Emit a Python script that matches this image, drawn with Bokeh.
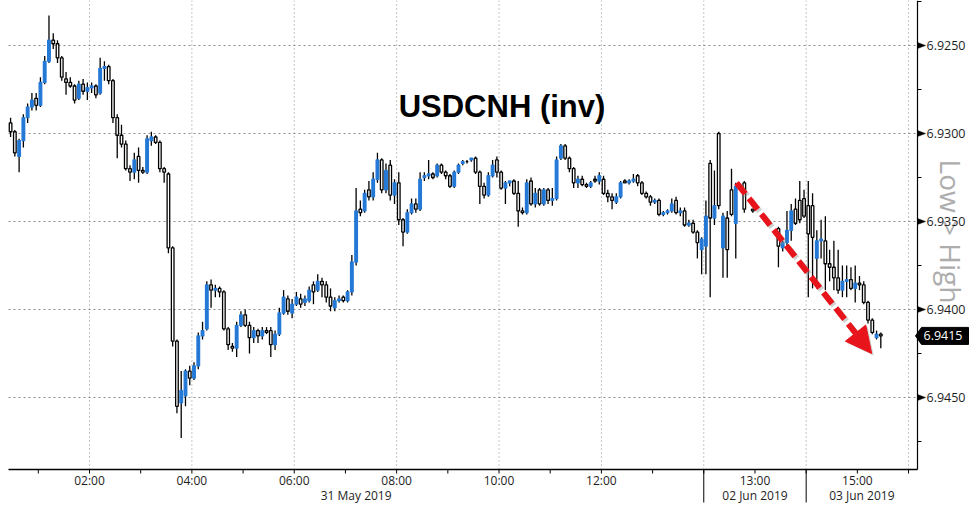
import math
from bokeh.plotting import figure
from bokeh.models import Range1d, Arrow, NormalHead, ColumnDataSource
from bokeh.embed import file_html
from bokeh.resources import INLINE
from bokeh.core.properties import value

# ---------------- data ----------------
title_text = "USDCNH (inv)"
scale_note = "Low > High"
bar_minutes = 5

# 31 May 2019, 5-minute bars starting 00:25
may31_first_bar = "00:25"
may31_open = [
    6.9294, 6.9299, 6.9313, 6.9304, 6.9291, 6.9285, 6.9280, 6.9284, 6.9271, 6.9259,
    6.9247, 6.9249, 6.9257, 6.9269, 6.9271, 6.9273, 6.9280, 6.9272, 6.9276, 6.9274,
    6.9273, 6.9277, 6.9263, 6.9262, 6.9270, 6.9291, 6.9301, 6.9306, 6.9320, 6.9322,
    6.9313, 6.9321, 6.9322, 6.9304, 6.9302, 6.9305, 6.9320, 6.9323, 6.9365, 6.9418,
    6.9453, 6.9449, 6.9435, 6.9439, 6.9432, 6.9415, 6.9411, 6.9386, 6.9389, 6.9388,
    6.9390, 6.9411, 6.9421, 6.9422, 6.9409, 6.9403, 6.9409, 6.9416, 6.9412, 6.9415,
    6.9412, 6.9412, 6.9420, 6.9414, 6.9402, 6.9394, 6.9402, 6.9397, 6.9394, 6.9396,
    6.9395, 6.9386, 6.9389, 6.9384, 6.9386, 6.9393, 6.9399, 6.9395, 6.9393, 6.9395,
    6.9390, 6.9373, 6.9343, 6.9344, 6.9332, 6.9336, 6.9326, 6.9315, 6.9332, 6.9318,
    6.9335, 6.9328, 6.9349, 6.9356, 6.9345, 6.9340, 6.9343, 6.9325, 6.9324, 6.9323,
    6.9324, 6.9318, 6.9322, 6.9324, 6.9330, 6.9322, 6.9317, 6.9316, 6.9315, 6.9314,
    6.9322, 6.9330, 6.9335, 6.9324, 6.9315, 6.9322, 6.9331, 6.9328, 6.9327, 6.9334,
    6.9344, 6.9345, 6.9327, 6.9340, 6.9332, 6.9340, 6.9332, 6.9338, 6.9337, 6.9314,
    6.9307, 6.9314, 6.9320, 6.9328, 6.9326, 6.9329, 6.9330, 6.9326, 6.9327, 6.9326,
    6.9334, 6.9336, 6.9339, 6.9336, 6.9327, 6.9328, 6.9327, 6.9324, 6.9328, 6.9334,
    6.9336, 6.9339, 6.9338, 6.9346, 6.9345, 6.9344, 6.9338, 6.9345, 6.9344, 6.9352,
    6.9351, 6.9356, 6.9366]
may31_high = [
    6.9302, 6.9313, 6.9322, 6.9308, 6.9294, 6.9287, 6.9287, 6.9285, 6.9272, 6.9260,
    6.9252, 6.9260, 6.9270, 6.9278, 6.9274, 6.9283, 6.9281, 6.9278, 6.9281, 6.9277,
    6.9280, 6.9278, 6.9270, 6.9272, 6.9294, 6.9314, 6.9308, 6.9321, 6.9327, 6.9326,
    6.9328, 6.9323, 6.9323, 6.9307, 6.9306, 6.9322, 6.9328, 6.9368, 6.9421, 6.9459,
    6.9473, 6.9455, 6.9443, 6.9440, 6.9434, 6.9417, 6.9412, 6.9399, 6.9393, 6.9393,
    6.9412, 6.9423, 6.9424, 6.9427, 6.9410, 6.9410, 6.9425, 6.9419, 6.9419, 6.9417,
    6.9414, 6.9427, 6.9423, 6.9415, 6.9403, 6.9403, 6.9405, 6.9398, 6.9399, 6.9398,
    6.9396, 6.9397, 6.9390, 6.9393, 6.9396, 6.9401, 6.9401, 6.9396, 6.9396, 6.9396,
    6.9392, 6.9375, 6.9347, 6.9345, 6.9338, 6.9338, 6.9328, 6.9334, 6.9334, 6.9338,
    6.9340, 6.9352, 6.9364, 6.9357, 6.9346, 6.9345, 6.9344, 6.9327, 6.9326, 6.9326,
    6.9325, 6.9323, 6.9326, 6.9331, 6.9331, 6.9323, 6.9318, 6.9317, 6.9316, 6.9323,
    6.9340, 6.9337, 6.9336, 6.9325, 6.9325, 6.9332, 6.9340, 6.9330, 6.9335, 6.9353,
    6.9346, 6.9346, 6.9341, 6.9342, 6.9341, 6.9341, 6.9340, 6.9341, 6.9338, 6.9315,
    6.9315, 6.9322, 6.9331, 6.9331, 6.9330, 6.9331, 6.9331, 6.9328, 6.9329, 6.9335,
    6.9339, 6.9343, 6.9340, 6.9337, 6.9328, 6.9329, 6.9328, 6.9330, 6.9335, 6.9337,
    6.9341, 6.9340, 6.9347, 6.9347, 6.9346, 6.9345, 6.9346, 6.9347, 6.9353, 6.9353,
    6.9357, 6.9371, 6.9380]
may31_low = [
    6.9291, 6.9298, 6.9303, 6.9289, 6.9283, 6.9277, 6.9277, 6.9268, 6.9256, 6.9233,
    6.9243, 6.9247, 6.9256, 6.9265, 6.9268, 6.9272, 6.9270, 6.9269, 6.9271, 6.9271,
    6.9272, 6.9257, 6.9259, 6.9261, 6.9269, 6.9289, 6.9295, 6.9304, 6.9318, 6.9311,
    6.9308, 6.9319, 6.9301, 6.9299, 6.9301, 6.9304, 6.9319, 6.9322, 6.9364, 6.9417,
    6.9435, 6.9434, 6.9432, 6.9430, 6.9413, 6.9407, 6.9384, 6.9383, 6.9386, 6.9387,
    6.9389, 6.9410, 6.9419, 6.9407, 6.9401, 6.9400, 6.9407, 6.9410, 6.9411, 6.9410,
    6.9410, 6.9410, 6.9412, 6.9399, 6.9389, 6.9392, 6.9394, 6.9390, 6.9391, 6.9392,
    6.9387, 6.9384, 6.9380, 6.9382, 6.9384, 6.9388, 6.9393, 6.9392, 6.9392, 6.9389,
    6.9369, 6.9331, 6.9338, 6.9332, 6.9327, 6.9322, 6.9311, 6.9314, 6.9317, 6.9315,
    6.9326, 6.9322, 6.9348, 6.9343, 6.9337, 6.9337, 6.9322, 6.9322, 6.9315, 6.9322,
    6.9317, 6.9317, 6.9321, 6.9323, 6.9321, 6.9317, 6.9315, 6.9315, 6.9314, 6.9313,
    6.9321, 6.9328, 6.9322, 6.9315, 6.9313, 6.9321, 6.9327, 6.9327, 6.9326, 6.9327,
    6.9342, 6.9326, 6.9325, 6.9331, 6.9331, 6.9331, 6.9331, 6.9331, 6.9313, 6.9306,
    6.9306, 6.9313, 6.9319, 6.9324, 6.9324, 6.9328, 6.9327, 6.9324, 6.9322, 6.9324,
    6.9332, 6.9334, 6.9334, 6.9327, 6.9326, 6.9326, 6.9323, 6.9323, 6.9327, 6.9333,
    6.9335, 6.9337, 6.9337, 6.9344, 6.9343, 6.9337, 6.9336, 6.9342, 6.9342, 6.9349,
    6.9349, 6.9355, 6.9359]
may31_close = [
    6.9299, 6.9311, 6.9304, 6.9291, 6.9285, 6.9281, 6.9284, 6.9271, 6.9259, 6.9247,
    6.9249, 6.9257, 6.9268, 6.9271, 6.9273, 6.9281, 6.9272, 6.9276, 6.9274, 6.9273,
    6.9278, 6.9263, 6.9262, 6.9270, 6.9291, 6.9301, 6.9306, 6.9320, 6.9322, 6.9315,
    6.9321, 6.9322, 6.9303, 6.9302, 6.9305, 6.9320, 6.9322, 6.9365, 6.9418, 6.9455,
    6.9446, 6.9435, 6.9439, 6.9432, 6.9415, 6.9412, 6.9386, 6.9389, 6.9388, 6.9390,
    6.9411, 6.9420, 6.9422, 6.9409, 6.9403, 6.9409, 6.9416, 6.9412, 6.9415, 6.9412,
    6.9413, 6.9420, 6.9414, 6.9402, 6.9393, 6.9401, 6.9397, 6.9393, 6.9397, 6.9394,
    6.9389, 6.9390, 6.9384, 6.9386, 6.9393, 6.9398, 6.9395, 6.9394, 6.9395, 6.9390,
    6.9373, 6.9344, 6.9345, 6.9334, 6.9336, 6.9326, 6.9315, 6.9332, 6.9321, 6.9335,
    6.9328, 6.9349, 6.9356, 6.9345, 6.9340, 6.9343, 6.9326, 6.9324, 6.9323, 6.9325,
    6.9318, 6.9322, 6.9324, 6.9330, 6.9322, 6.9318, 6.9316, 6.9316, 6.9314, 6.9322,
    6.9330, 6.9335, 6.9324, 6.9318, 6.9322, 6.9331, 6.9328, 6.9327, 6.9334, 6.9344,
    6.9345, 6.9328, 6.9340, 6.9334, 6.9340, 6.9332, 6.9338, 6.9337, 6.9315, 6.9307,
    6.9314, 6.9320, 6.9328, 6.9326, 6.9329, 6.9330, 6.9328, 6.9327, 6.9324, 6.9334,
    6.9336, 6.9338, 6.9336, 6.9328, 6.9328, 6.9327, 6.9326, 6.9328, 6.9334, 6.9336,
    6.9339, 6.9338, 6.9346, 6.9345, 6.9344, 6.9340, 6.9345, 6.9344, 6.9352, 6.9351,
    6.9356, 6.9362, 6.9360]

# 02 Jun 2019, 5-minute bars starting 12:00 (None = no trade)
jun02_first_bar = "12:00"
jun02_open = [6.9364, 6.9317, 6.9348, 6.9300, 6.9365, 6.9348, 6.9332, 6.9351, None, 6.9328,
              None, 6.9343, None, None, 6.9348, None, None, 6.9354, 6.9365, 6.9362,
              6.9355, 6.9343, 6.9338, 6.9337]
jun02_high = [6.9380, 6.9393, 6.9352, 6.9343, 6.9382, 6.9382, 6.9347, 6.9371, None, 6.9345,
              None, 6.9345, None, None, 6.9349, None, None, 6.9376, 6.9367, 6.9364,
              6.9361, 6.9352, 6.9351, 6.9348]
jun02_low = [6.9338, 6.9315, 6.9321, 6.9299, 6.9345, 6.9344, 6.9320, 6.9328, None, 6.9327,
             None, 6.9343, None, None, 6.9347, None, None, 6.9353, 6.9361, 6.9344,
             6.9340, 6.9337, 6.9327, 6.9332]
jun02_close = [6.9347, 6.9348, 6.9341, 6.9341, 6.9347, 6.9366, 6.9346, 6.9330, None, 6.9343,
               None, 6.9344, None, None, 6.9348, None, None, 6.9364, 6.9362, 6.9355,
               6.9344, 6.9351, 6.9349, 6.9347]

# 03 Jun 2019, 5-minute bars starting 14:00
jun03_first_bar = "14:00"
jun03_open = [6.9341, 6.9341, 6.9371, 6.9361, 6.9361, 6.9374, 6.9376, 6.9382, 6.9389,
              6.9384, 6.9383, 6.9388, 6.9385, 6.9386, 6.9396, 6.9406, 6.9416, 6.9414]
jun03_high = [6.9393, 6.9388, 6.9388, 6.9371, 6.9389, 6.9384, 6.9389, 6.9391, 6.9393,
              6.9393, 6.9389, 6.9396, 6.9389, 6.9397, 6.9408, 6.9414, 6.9417, 6.9422]
jun03_low = [6.9327, 6.9334, 6.9355, 6.9349, 6.9347, 6.9366, 6.9361, 6.9366, 6.9375,
             6.9375, 6.9376, 6.9375, 6.9381, 6.9384, 6.9395, 6.9405, 6.9412, 6.9413]
jun03_close = [6.9357, 6.9359, 6.9361, 6.9360, 6.9374, 6.9376, 6.9382, 6.9389, 6.9384,
               6.9383, 6.9388, 6.9385, 6.9386, 6.9396, 6.9406, 6.9413, 6.9414, 6.9415]

session_dates = ["31 May 2019", "02 Jun 2019", "03 Jun 2019"]
# the time axis is compressed: axis hour = clock hour + shift
session_axis_shift = [0.0, 2.0, 2.0]
session_breaks = [14.0, 16.0]           # axis hours where sessions meet
time_tick_labels = ["02:00", "04:00", "06:00", "08:00", "10:00", "12:00", "13:00", "15:00"]
time_tick_session = [0, 0, 0, 0, 0, 0, 1, 2]
price_ticks = [6.9250, 6.9300, 6.9350, 6.9400, 6.9450]
price_minor_ticks = [6.9225, 6.9275, 6.9325, 6.9375, 6.9425, 6.9475]
trend_arrow_x = [14.64, 17.28]          # axis hours
trend_arrow_y = [6.9328, 6.9425]        # price

# ---------------- layout (the whole canvas is the plotting frame) ----------------
W, H = 972, 506
PX_PER_HOUR = 51.19
PX_PER_PRICE = 88 / 0.005
X0 = 2 - 89 / PX_PER_HOUR            # axis hour at canvas x = 0
Y_TOP = 6.925 - 45 / PX_PER_PRICE    # price at canvas y = 0


def x_at(px):
    return X0 + px / PX_PER_HOUR


def y_at(py):
    return Y_TOP + py / PX_PER_PRICE


def clock_hours(s):
    h, m = s.split(":")
    return int(h) + int(m) / 60.0


PLOT_L, PLOT_R, PLOT_B = x_at(8), x_at(917), y_at(469)
BLUE = "#2479d6"
GRID = "#8c8c8c"
FONT = "Open Sans"
TXT = "#1e1e1e"

p = figure(frame_width=W, frame_height=H,
           x_range=Range1d(X0, x_at(W)), y_range=Range1d(y_at(H), Y_TOP),
           output_backend="svg", toolbar_location=None,
           x_axis_location=None, y_axis_location=None, title=None,
           min_border=0, outline_line_color=None,
           background_fill_color="white", border_fill_color="white")
p.xgrid.visible = False
p.ygrid.visible = False

# "Low > High" note (behind everything on the right)
p.text(x=[x_at(950)], y=[y_at(231)], text=[scale_note], angle=-math.pi / 2,
       text_font=value(FONT), text_font_size="28px", text_color="#adadad",
       text_align="center", text_baseline="middle")

# dotted grid
n = len(price_ticks)
p.segment(x0=[PLOT_L] * n, y0=price_ticks, x1=[PLOT_R] * n, y1=price_ticks,
          line_color=GRID, line_dash="2 3", line_width=1)
grid_hours = [float(h) for h in range(2, int(PLOT_R) + 1, 2)]
m = len(grid_hours)
p.segment(x0=grid_hours, y0=[Y_TOP] * m, x1=grid_hours, y1=[PLOT_B] * m,
          line_color=GRID, line_dash="1 3", line_width=1)

# ---------------- candles ----------------
sessions = [
    (may31_first_bar, session_axis_shift[0], may31_open, may31_high, may31_low, may31_close),
    (jun02_first_bar, session_axis_shift[1], jun02_open, jun02_high, jun02_low, jun02_close),
    (jun03_first_bar, session_axis_shift[2], jun03_open, jun03_high, jun03_low, jun03_close),
]
cx, ch, cl, ctop, cbot, cfill, cline = [], [], [], [], [], [], []
for first, shift, o, h, l, c in sessions:
    t0 = clock_hours(first) + shift
    for i in range(len(o)):
        if o[i] is None:
            continue
        cx.append(t0 + (i + 0.5) * bar_minutes / 60.0)
        ch.append(h[i])
        cl.append(l[i])
        ctop.append(max(o[i], c[i]))
        cbot.append(min(o[i], c[i]))
        if c[i] < o[i]:
            cfill.append(BLUE)
            cline.append(BLUE)
        else:
            cfill.append("white")
            cline.append("black")

src = ColumnDataSource(dict(x=cx, high=ch, low=cl, top=ctop, bottom=cbot,
                            fill=cfill, line=cline))
p.segment(x0="x", y0="low", x1="x", y1="high", source=src, line_color="black",
          line_width=1.3)
p.vbar(x="x", width=2.6 / PX_PER_HOUR, top="top", bottom="bottom", source=src,
       fill_color="fill", line_color="line", line_width=1.3)

# ---------------- bottom time axis ----------------
p.segment(x0=[PLOT_L], y0=[PLOT_B], x1=[PLOT_R], y1=[PLOT_B], line_color="black",
          line_width=1.5)
hour_ticks = [float(h) for h in range(1, int(PLOT_R) + 1)]
k = len(hour_ticks)
p.segment(x0=hour_ticks, y0=[PLOT_B] * k, x1=hour_ticks,
          y1=[y_at(473)] * k, line_color="black", line_width=1)
b = len(session_breaks)
p.segment(x0=session_breaks, y0=[PLOT_B] * b, x1=session_breaks,
          y1=[y_at(502)] * b, line_color="black", line_width=1)

tick_x = [clock_hours(t) + session_axis_shift[s]
          for t, s in zip(time_tick_labels, time_tick_session)]
p.text(x=tick_x, y=[y_at(480)] * len(tick_x), text=time_tick_labels,
       text_font=value(FONT), text_font_size="12px", text_color=TXT,
       text_align="center", text_baseline="middle")

bounds = [PLOT_L] + session_breaks + [PLOT_R]
date_x = [(bounds[i] + bounds[i + 1]) / 2 for i in range(len(session_dates))]
p.text(x=date_x, y=[y_at(495)] * len(date_x), text=session_dates,
       text_font=value(FONT), text_font_size="12px", text_color=TXT,
       text_align="center", text_baseline="middle")

# ---------------- right price axis ----------------
p.segment(x0=[PLOT_R], y0=[Y_TOP], x1=[PLOT_R], y1=[PLOT_B], line_color="black",
          line_width=1.2)
half = 3 / PX_PER_PRICE
p.patches(xs=[[PLOT_R, x_at(925), PLOT_R] for _ in price_ticks],
          ys=[[v - half, v, v + half] for v in price_ticks],
          fill_color="black", line_color="black", line_width=0.5)
q = len(price_minor_ticks)
p.segment(x0=[PLOT_R] * q, y0=price_minor_ticks, x1=[x_at(921)] * q,
          y1=price_minor_ticks, line_color="black", line_width=1)
p.text(x=[x_at(926)] * n, y=price_ticks, text=["%.4f" % v for v in price_ticks],
       text_font=value(FONT), text_font_size="12.5px", text_color=TXT,
       text_align="left", text_baseline="middle")

# last price tag
last_close = jun03_close[-1]
tag_h = 8.5 / PX_PER_PRICE
p.patch(x=[x_at(915), x_at(921), x_at(968), x_at(968), x_at(921)],
        y=[last_close, last_close - tag_h, last_close - tag_h, last_close + tag_h,
           last_close + tag_h],
        fill_color="black", line_color="black")
p.text(x=[x_at(923)], y=[last_close], text=["%.4f" % last_close],
       text_font=value(FONT), text_font_size="12.5px", text_color="white",
       text_align="left", text_baseline="middle")

# ---------------- annotations ----------------
RED = "#e8141b"
sdx, sdy = 2 / PX_PER_HOUR, 2 / PX_PER_PRICE
p.add_layout(Arrow(x_start=trend_arrow_x[0] + sdx, y_start=trend_arrow_y[0] + sdy,
                   x_end=trend_arrow_x[1] + sdx, y_end=trend_arrow_y[1] + sdy,
                   line_color="#8a8a8a", line_alpha=0.4, line_width=6, line_dash="14 6",
                   end=NormalHead(size=26, fill_color="#8a8a8a", fill_alpha=0.4,
                                  line_color=None)))
p.add_layout(Arrow(x_start=trend_arrow_x[0], y_start=trend_arrow_y[0],
                   x_end=trend_arrow_x[1], y_end=trend_arrow_y[1],
                   line_color=RED, line_width=6, line_dash="14 6",
                   end=NormalHead(size=26, fill_color=RED, line_color=RED, line_width=1)))

p.text(x=[x_at(501.5)], y=[y_at(105.5)], text=[title_text],
       text_font=value("Liberation Sans"), text_font_style="bold",
       text_font_size="31px", text_color="black",
       text_align="center", text_baseline="alphabetic")

open("out.html", "w").write(file_html(p, INLINE, title_text))
